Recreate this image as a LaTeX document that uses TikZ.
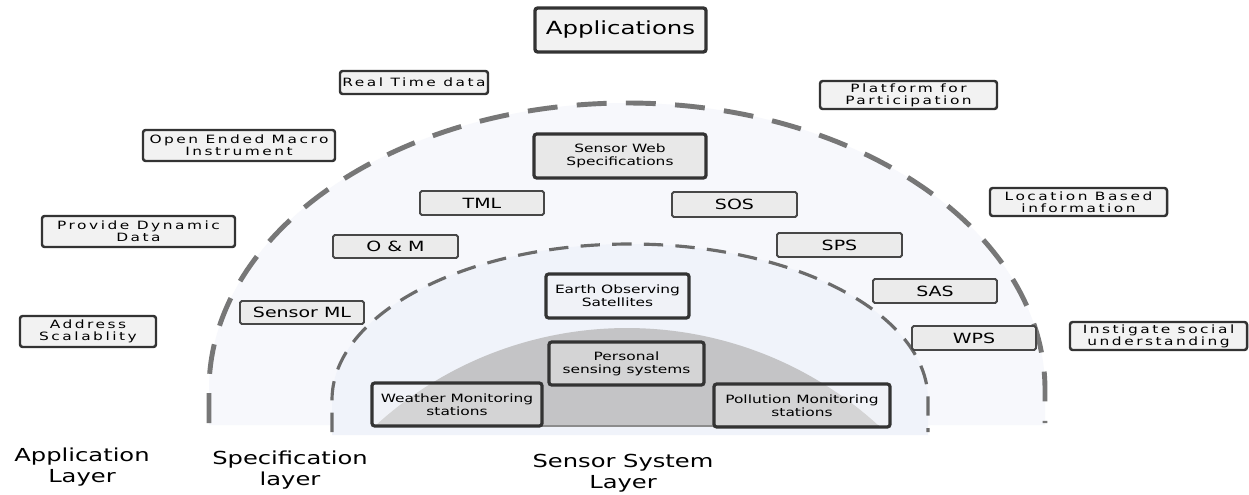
\documentclass[tikz,border=0pt]{standalone}
\usepackage{fontspec}
\setmainfont{DejaVu Sans}[FakeStretch=1.35]
\newfontfamily\spacedfont{DejaVu Sans}[FakeStretch=1.35,LetterSpace=22]
\definecolor{outerfill}{HTML}{F7F8FC}
\definecolor{innerfill}{HTML}{F0F3FA}
\definecolor{sensorgray}{HTML}{C4C4C6}
\definecolor{dashgray}{HTML}{777777}
\definecolor{boxline}{HTML}{333333}
\tikzset{
	boxsize/.style 2 args={minimum width=#1*0.2mm, minimum height=#2*0.2mm},
	mainbox/.style={draw=boxline, line width=1.9pt, rounded corners=1.5pt, fill=black!5, inner sep=0pt, align=center, font=\fontsize{10.3}{12}\selectfont},
	appbox/.style={draw=boxline, line width=1.4pt, rounded corners=1.5pt, fill=black!5, inner sep=0pt, align=center, font=\spacedfont\fontsize{6.5}{7}\selectfont},
	specbox/.style={draw=boxline!90, line width=1.1pt, rounded corners=1pt, fill=black!8, inner sep=0pt, align=center, font=\fontsize{8}{9}\selectfont},
	sensbox/.style={draw=boxline, line width=1.8pt, rounded corners=1.5pt, fill=black!5, fill opacity=0.35, text opacity=1, inner sep=0pt, align=center, font=\fontsize{6.5}{7.5}\selectfont},
	layer/.style={anchor=north, inner sep=0pt, align=center, font=\fontsize{10.2}{11.6}\selectfont},
}
\begin{document}
\begin{tikzpicture}[x=0.2mm,y=-0.2mm]
	\fill[white] (0,0) rectangle (1249,494);
	% layers
	\fill[outerfill] (209,425) -- (209,390) arc[start angle=180, end angle=360, x radius=418, y radius=287] -- (1045,425) -- cycle;
	\fill[innerfill] (332,435) -- (332,400) arc[start angle=180, end angle=360, x radius=298, y radius=156] -- (928,435) -- cycle;
	\fill[sensorgray] (375,426) arc[start angle=227.5, end angle=312.5, radius=373] -- cycle;
	\draw[black!45, line width=0.8pt] (375,426) -- (879,426);
	\draw[dashgray, line width=2.8pt, dash pattern=on 17pt off 11pt] (209,423) -- (209,390) arc[start angle=180, end angle=360, x radius=418, y radius=287] -- (1045,423);
	\draw[dashgray!90!black, line width=1.8pt, dash pattern=on 11pt off 7pt] (332,432) -- (332,400) arc[start angle=180, end angle=360, x radius=298, y radius=156] -- (928,432);
	% application layer
	\node[mainbox, boxsize={171}{44}] (apps) at (620.5,30) {Applications};
	\node[appbox, boxsize={148}{23}] (rtd) at (414,82.5) {Real Time data};
	\node[appbox, boxsize={177}{28}] (plat) at (908.5,95) {Platform for\\Participation};
	\node[appbox, boxsize={192}{31}] (oemi) at (239,145.5) {Open Ended Macro\\Instrument};
	\node[appbox, boxsize={177}{28}] (lbi) at (1078.5,202) {Location Based\\information};
	\node[appbox, boxsize={193}{31}] (pdd) at (138.5,231.5) {Provide Dynamic\\Data};
	\node[appbox, boxsize={136}{31}] (addr) at (88,331.5) {Address\\Scalablity};
	\node[appbox, boxsize={177}{28}] (isu) at (1158.5,336) {Instigate social\\understanding};
	% specification layer
	\node[sensbox, fill=black!9, fill opacity=1, boxsize={172}{44}] (swspec) at (620,156) {Sensor Web\\Specifications};
	\node[specbox, boxsize={124}{24}] (tml) at (482,203) {TML};
	\node[specbox, boxsize={125}{25}] (sos) at (734.5,204.5) {SOS};
	\node[specbox, boxsize={125}{23}] (om) at (395.5,246.5) {O \& M};
	\node[specbox, boxsize={125}{24}] (sps) at (839.5,245) {SPS};
	\node[specbox, boxsize={124}{24}] (sas) at (935,291) {SAS};
	\node[specbox, boxsize={124}{23}] (sml) at (302,312.5) {Sensor ML};
	\node[specbox, boxsize={124}{24}] (wps) at (974,338) {WPS};
	% sensor system layer
	\node[sensbox, boxsize={143}{44}] (eos) at (617.5,296) {Earth Observing\\Satellites};
	\node[sensbox, boxsize={155}{43}] (pss) at (626.5,363.5) {Personal\\sensing systems};
	\node[sensbox, boxsize={170}{43}] (wms) at (457,404.5) {Weather Monitoring\\stations};
	\node[sensbox, boxsize={176}{43}] (pms) at (802,405.5) {Pollution Monitoring\\stations};
	% layer names
	\node[layer] (applayer) at (82,448) {Application\\Layer};
	\node[layer] (speclayer) at (290,451) {Specification\\layer};
	\node[layer] (senslayer) at (623,454) {Sensor System\\Layer};
\end{tikzpicture}
\end{document}
